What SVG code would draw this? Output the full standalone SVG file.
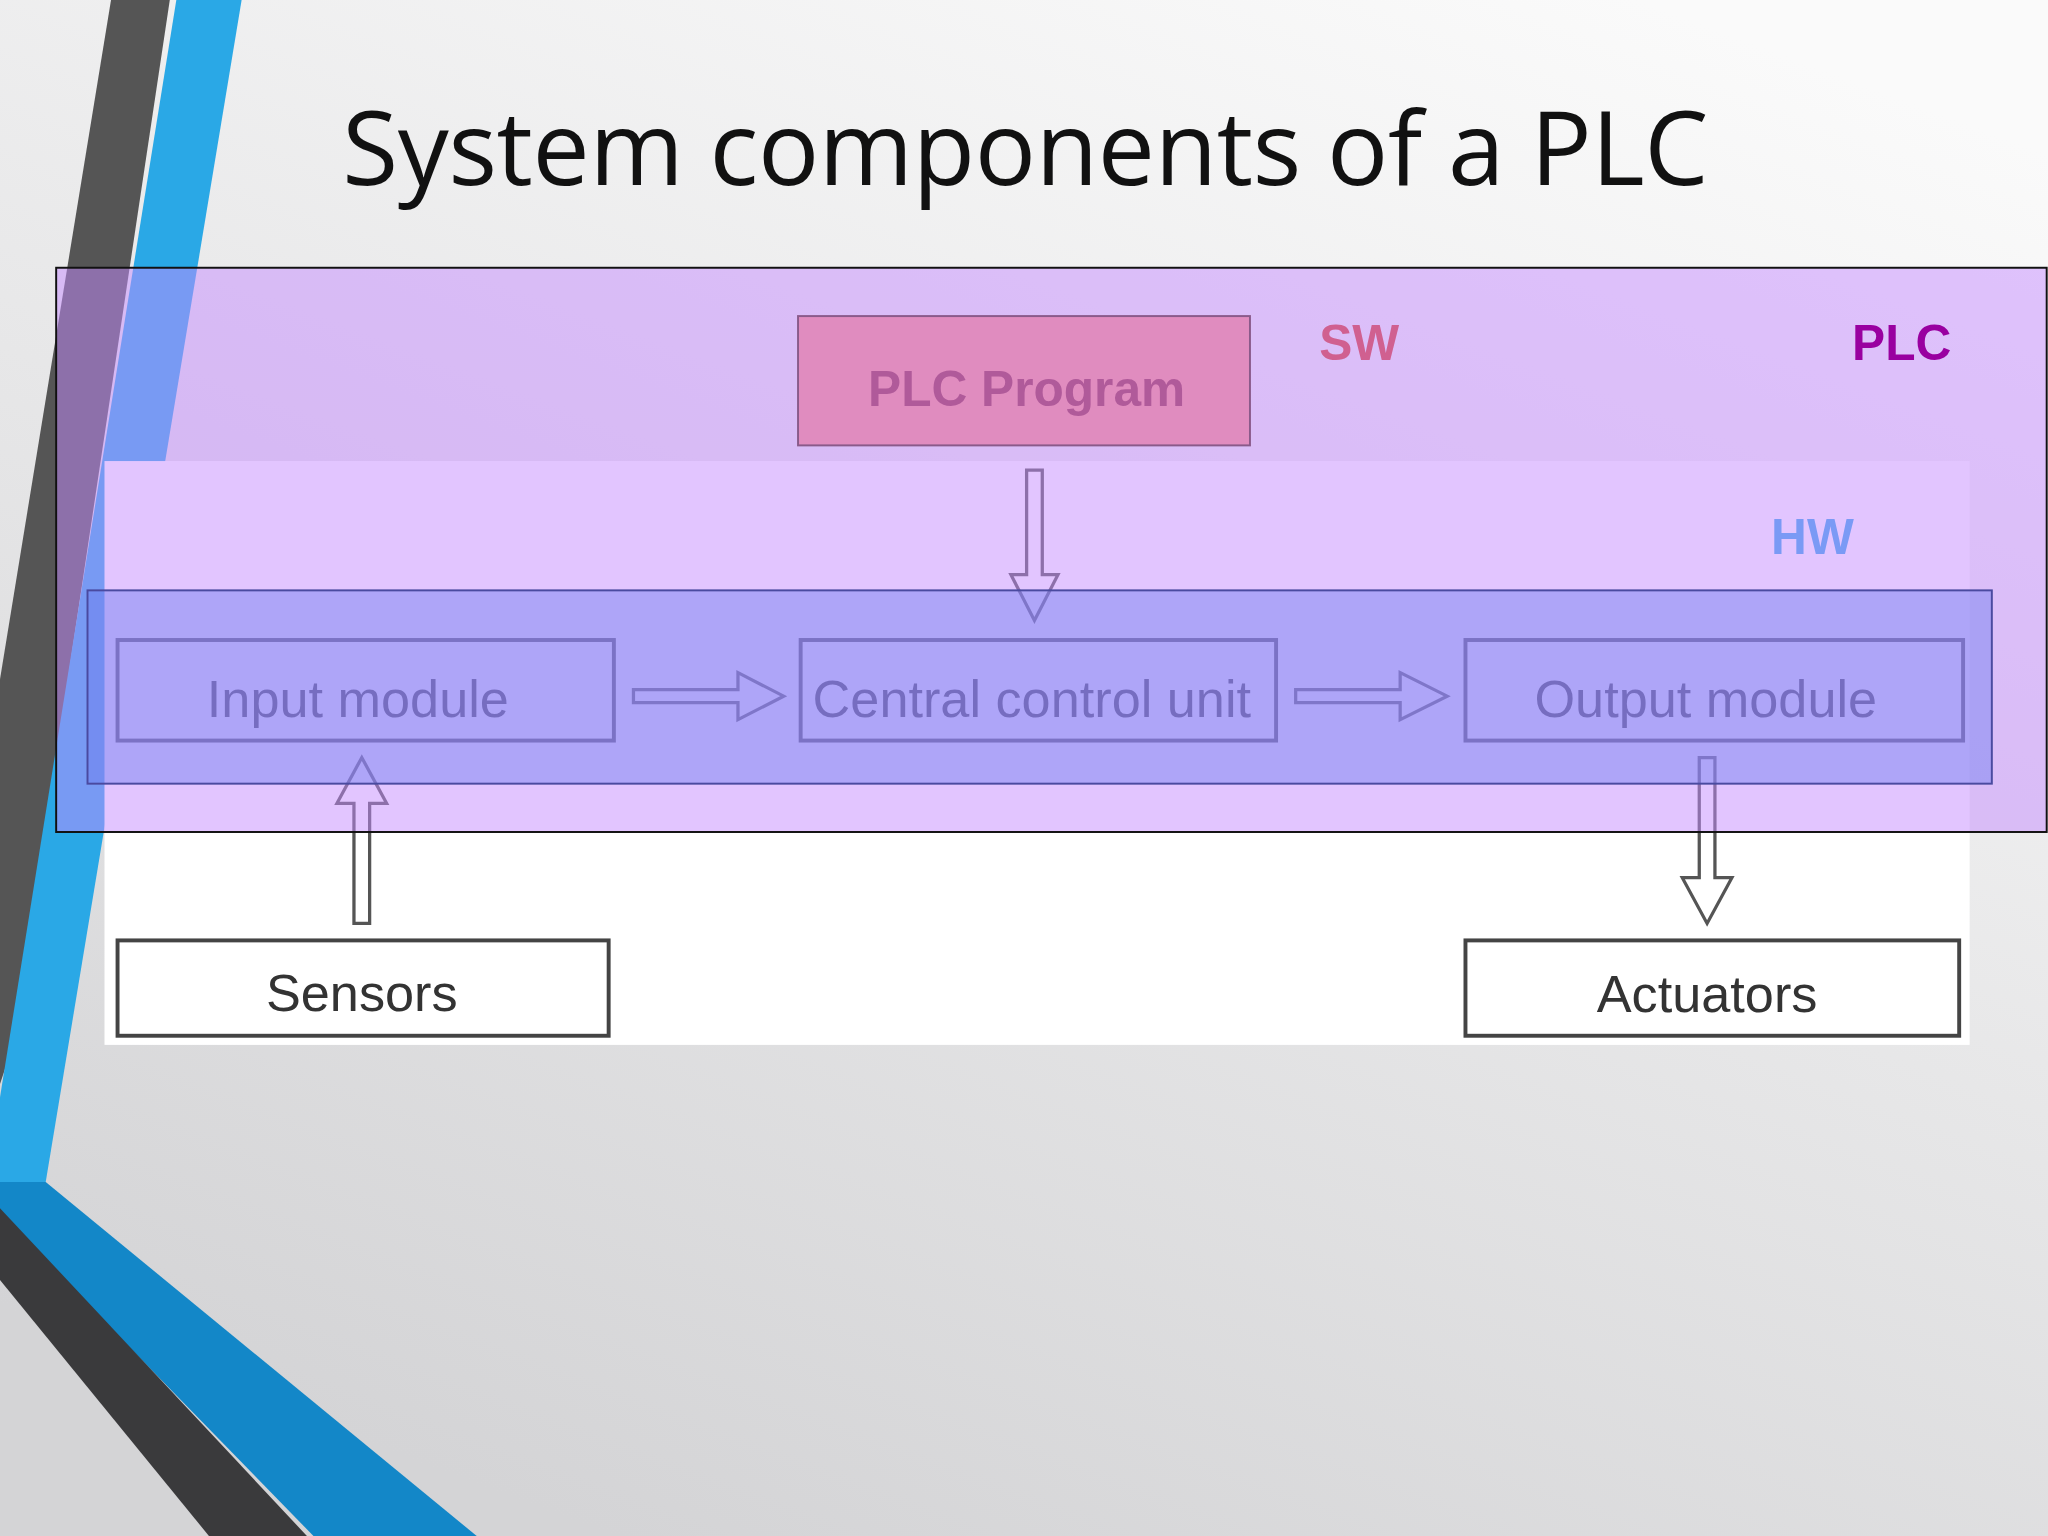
<svg xmlns="http://www.w3.org/2000/svg" width="2048" height="1536" viewBox="0 0 2048 1536">
<defs>
<linearGradient id="bg" x1="0.8" y1="0" x2="0.3" y2="1">
<stop offset="0" stop-color="#fafafa"/><stop offset="1" stop-color="#d4d4d6"/>
</linearGradient>
<style>
.box{fill:none;stroke:#444;stroke-width:3}
.lbl{font-family:"Liberation Sans",Arial,sans-serif;font-size:40px;fill:#333;text-anchor:middle}
.arr{fill:#fff;stroke:#555;stroke-width:2.5}
.tag{font-family:"Liberation Sans",Arial,sans-serif;font-size:38px;font-weight:bold}
</style>
</defs>
<g transform="scale(1.30612)">
<rect x="0" y="0" width="1568" height="1176" fill="url(#bg)"/>
<g id="decor">
<polygon points="85,0 130,0 10,800 0,830 0,520" fill="#555"/>
<polygon points="135,0 185,0 35,905 0,905 0,840" fill="#2aa8e6"/>
<polygon points="0,905 35,905 365,1176 240,1176 0,930" fill="#1387c8"/>
<polygon points="0,925 0,980 160,1176 235,1176" fill="#3a3a3c"/>
</g>
<text x="262" y="142" font-family="'Open Sans',sans-serif" font-size="78" fill="#111" textLength="1046">System components of a PLC</text>
<rect x="80" y="353" width="1428" height="447" fill="#fff"/>
<g id="connectors">
<polygon class="arr" points="485,528 565,528 565,515 600,533 565,551 565,538 485,538"/>
<polygon class="arr" points="992,528 1072,528 1072,515 1108,533 1072,551 1072,538 992,538"/>
<polygon class="arr" points="786,360 798,360 798,440 810,440 792,475 774,440 786,440" fill="#bbb"/>
<polygon class="arr" points="271,707 283,707 283,615 296,615 277,580 258,615 271,615" fill="#ccc"/>
<polygon class="arr" points="1301,580 1313,580 1313,672 1326,672 1307,707 1288,672 1301,672" fill="#ccc"/>
</g>
<g id="input"><rect class="box" x="90" y="490" width="380" height="77"/><text class="lbl" x="274" y="549">Input module</text></g>
<g id="ccu"><rect class="box" x="613" y="490" width="364" height="77"/><text class="lbl" x="790" y="549">Central control unit</text></g>
<g id="output"><rect class="box" x="1122" y="490" width="381" height="77"/><text class="lbl" x="1306" y="549">Output module</text></g>
<g id="sensors"><rect class="box" x="90" y="720" width="376" height="73"/><text class="lbl" x="277" y="774">Sensors</text></g>
<g id="actuators"><rect class="box" x="1122" y="720" width="378" height="73"/><text class="lbl" x="1307" y="775">Actuators</text></g>
<g id="plc"><rect x="43" y="205" width="1524" height="432" fill="#c68cff" fill-opacity="0.5" stroke="#111" stroke-width="1.5"/><text class="tag" x="1418" y="276" fill="#9900a0">PLC</text></g>
<g id="hw"><rect x="67" y="452" width="1458" height="148" fill="#6f7ff0" fill-opacity="0.45" stroke="#4a4aa0" stroke-width="1.5"/><text class="tag" x="1356" y="424" fill="#7a9af5">HW</text></g>
<g id="sw"><rect x="611" y="242" width="346" height="99" fill="#e08cbf" stroke="#8a5a8a" stroke-width="1.5"/><text class="tag" x="786" y="311" text-anchor="middle" fill="#b05a9a" font-size="36">PLC Program</text><text class="tag" x="1010" y="276" fill="#d06090">SW</text></g>
</g>
</svg>
